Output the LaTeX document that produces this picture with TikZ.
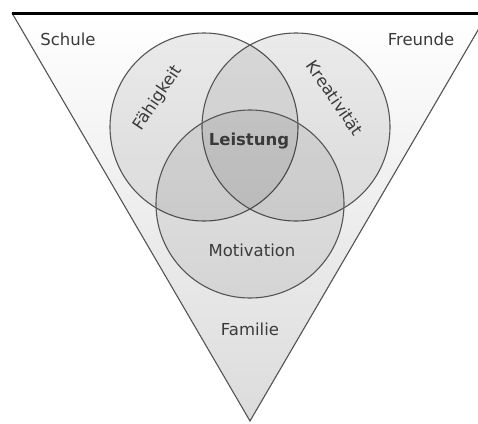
\documentclass[tikz,border=0pt]{standalone}
\usepackage{fontspec}
\setmainfont{DejaVu Sans}
\definecolor{txt}{HTML}{3A3A3A}
\definecolor{edge}{HTML}{555555}
\begin{document}
\begin{tikzpicture}[x=1pt,y=-1pt,
  ring/.style={circle,inner sep=0pt,minimum size=188pt,draw=edge,line width=1.1pt,fill=black,fill opacity=0.075,text opacity=1},
  lbl/.style={text=txt,font=\fontsize{16.5}{18}\selectfont,inner sep=0pt}]
\useasboundingbox (0,0) rectangle (478,423);
\begin{scope}
\clip (0,0) rectangle (478,423);
\coordinate (tl) at (12,13);
\coordinate (tr) at (488,13);
\coordinate (ap) at (250,421);
\shade[top color=white,bottom color=black!14] (tl) -- (tr) -- (ap) -- cycle;
\draw[edge,line width=1.1pt] (tl) -- (ap) -- (tr);
\draw[black,line width=3pt] (tl) -- (tr);
\node[ring] (c1) at (204,127) {};
\node[ring] (c2) at (296,127) {};
\node[ring] (c3) at (250,204) {};
\end{scope}
\node[lbl] (schule) at (68,39) {Schule};
\node[lbl] (freunde) at (421,39) {Freunde};
\node[lbl,rotate=56] (faeh) at (158,98) {Fähigkeit};
\node[lbl,rotate=-56] (krea) at (335,98) {Kreativität};
\node[lbl,font=\fontsize{16.5}{18}\selectfont\bfseries] (leist) at (249,141) {Leistung};
\node[lbl] (moti) at (252,250) {Motivation};
\node[lbl] (fam) at (250,329) {Familie};
\end{tikzpicture}
\end{document}
